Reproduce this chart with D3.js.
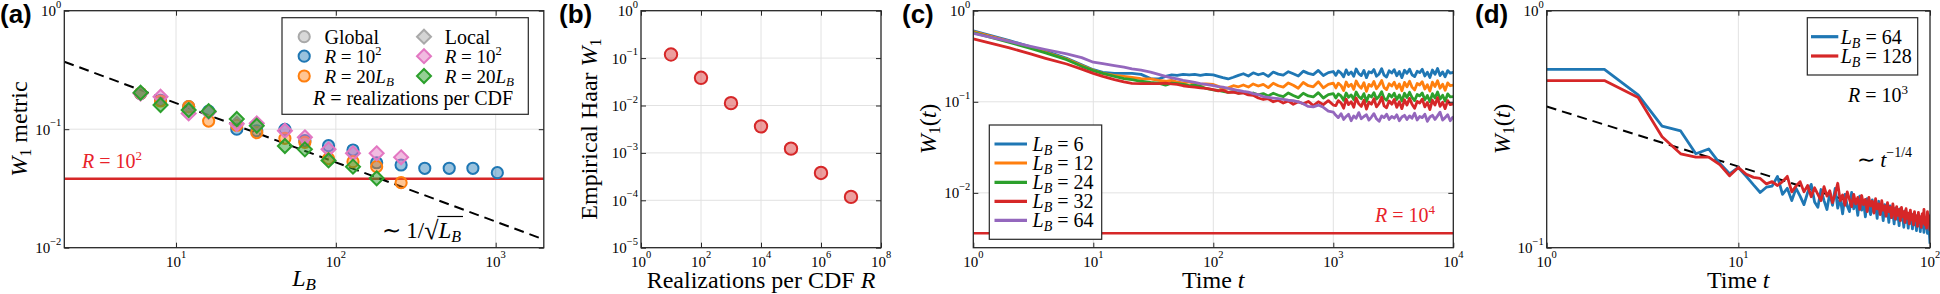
<!DOCTYPE html>
<html><head><meta charset="utf-8">
<script src="https://cdn.jsdelivr.net/npm/d3@7"></script>
<style>body{margin:0;background:#fff}svg{display:block}</style>
</head><body>
<script>
// ================= DATA =================
// Panel (a)
const LB = [6, 8, 12, 16, 24, 32, 48, 64, 90, 128, 180, 256, 360, 512, 720, 1024];
const globalR100 = [0.20, 0.175, 0.155, 0.142, 0.100, 0.097, 0.0998, 0.080, 0.0726, 0.0667, 0.0521, 0.0499, 0.0468, 0.0468, 0.0468, 0.043];
const globalR20L = [0.201, 0.173, 0.155, 0.117, 0.108, 0.0935, 0.0838, 0.0775, 0.0565, 0.0532, 0.0483, 0.0354];
const localR100 = [0.20, 0.188, 0.136, 0.14, 0.111, 0.112, 0.097, 0.0854, 0.0676, 0.0626, 0.0626, 0.0579];
const localR20L = [0.203, 0.16, 0.145, 0.142, 0.122, 0.107, 0.0722, 0.0676, 0.0545, 0.0483, 0.0385];
const fitA_L = [2, 2000];
const fitA_W = [0.371, 0.01174];
const thresholdA = 0.0382;

// Panel (b)
const realizationsR = [1e1, 1e2, 1e3, 1e4, 1e5, 1e6, 1e7];
const haarW1 = [0.119, 0.0384, 0.0112, 0.00363, 0.00123, 0.000378, 0.000118];

// Panel (c)
const timeC = [1,2,3,4,6,8,10,
 12,15,18,21,25,30,35,40,45,50,56,63,70,78,87,100,
 110,120,133,147,162,178,196,215,237,261,287,316,348,383,422,464,511,562,619,681,750,826,909,1000,
 1050,1100,1160,1220,1280,1340,1410,1480,1550,1630,1710,1800,1890,1980,2080,2180,2290,2410,2530,2650,2780,2920,3070,3220,3380,3550,3730,3920,4110,4320,4530,4760,5000,5250,5510,5790,6080,6380,6700,7040,7390,7760,8150,8550,8980,9430,10000];
const wC_L6 = [0.60,0.47,0.40,0.36,0.30,0.255,0.225,
 0.21,0.205,0.205,0.205,0.20,0.18,0.178,0.19,0.197,0.195,0.20,0.197,0.20,0.195,0.20,0.197,
 0.19,0.184,0.178,0.186,0.195,0.203,0.192,0.208,0.198,0.205,0.19,0.212,0.201,0.196,0.214,0.203,0.192,0.217,0.205,0.199,0.221,0.194,0.209,0.215,
 0.195,0.218,0.206,0.188,0.224,0.199,0.213,0.19,0.229,0.204,0.194,0.221,0.184,0.214,0.208,0.226,0.191,0.202,0.231,0.196,0.187,0.219,0.207,0.225,0.193,0.215,0.184,0.222,0.205,0.228,0.198,0.189,0.216,0.209,0.227,0.192,0.211,0.185,0.223,0.2,0.232,0.194,0.213,0.188,0.22,0.206,0.21];
const wC_L12 = [0.59,0.46,0.395,0.35,0.295,0.25,0.222,
 0.205,0.195,0.19,0.185,0.18,0.178,0.172,0.168,0.172,0.165,0.16,0.165,0.158,0.155,0.157,0.155,
 0.148,0.138,0.142,0.15,0.146,0.153,0.145,0.157,0.149,0.155,0.143,0.16,0.15,0.145,0.161,0.152,0.141,0.163,0.15,0.146,0.166,0.142,0.155,0.16,
 0.142,0.16,0.151,0.133,0.165,0.147,0.156,0.137,0.169,0.15,0.141,0.162,0.13,0.155,0.148,0.167,0.139,0.152,0.171,0.143,0.136,0.158,0.149,0.164,0.14,0.157,0.132,0.163,0.146,0.168,0.145,0.135,0.159,0.153,0.166,0.138,0.154,0.131,0.164,0.147,0.17,0.141,0.156,0.134,0.161,0.15,0.152];
const wC_L24 = [0.575,0.45,0.385,0.345,0.29,0.245,0.22,
 0.205,0.19,0.18,0.175,0.168,0.163,0.16,0.152,0.16,0.158,0.155,0.15,0.152,0.148,0.14,0.135,
 0.133,0.13,0.127,0.129,0.124,0.127,0.12,0.125,0.119,0.123,0.116,0.124,0.118,0.114,0.125,0.117,0.111,0.124,0.116,0.113,0.126,0.11,0.12,0.123,
 0.11,0.122,0.116,0.104,0.125,0.112,0.119,0.106,0.128,0.114,0.108,0.123,0.101,0.118,0.113,0.126,0.107,0.115,0.129,0.109,0.104,0.121,0.113,0.124,0.106,0.119,0.102,0.124,0.111,0.127,0.112,0.103,0.12,0.116,0.125,0.105,0.117,0.1,0.123,0.11,0.128,0.107,0.118,0.102,0.122,0.113,0.114];
const wC_L32 = [0.49,0.39,0.335,0.30,0.26,0.228,0.205,
 0.19,0.175,0.165,0.159,0.158,0.158,0.158,0.16,0.157,0.155,0.15,0.147,0.145,0.142,0.14,0.136,
 0.132,0.134,0.127,0.128,0.124,0.125,0.119,0.118,0.11,0.106,0.108,0.1,0.104,0.097,0.102,0.094,0.1,0.095,0.101,0.091,0.1,0.093,0.103,0.092,
 0.091,0.103,0.097,0.085,0.107,0.093,0.1,0.087,0.11,0.095,0.089,0.104,0.083,0.099,0.094,0.108,0.088,0.096,0.112,0.09,0.086,0.102,0.094,0.106,0.087,0.1,0.084,0.105,0.092,0.109,0.094,0.085,0.101,0.097,0.107,0.088,0.098,0.082,0.104,0.092,0.111,0.089,0.099,0.084,0.103,0.093,0.095];
const wC_L64 = [0.565,0.46,0.405,0.375,0.335,0.305,0.272,
 0.262,0.25,0.24,0.23,0.222,0.212,0.2,0.19,0.183,0.178,0.172,0.168,0.163,0.158,0.155,0.15,
 0.147,0.145,0.14,0.137,0.133,0.13,0.128,0.123,0.12,0.114,0.112,0.11,0.108,0.106,0.104,0.103,0.1,0.095,0.089,0.088,0.092,0.087,0.079,0.077,
 0.071,0.067,0.074,0.064,0.069,0.073,0.062,0.07,0.066,0.076,0.065,0.069,0.072,0.063,0.068,0.074,0.065,0.061,0.07,0.067,0.073,0.064,0.069,0.066,0.072,0.062,0.068,0.071,0.064,0.07,0.066,0.075,0.063,0.069,0.067,0.073,0.061,0.068,0.071,0.064,0.07,0.077,0.063,0.067,0.072,0.062,0.069];
const seriesC = [["6", wC_L6, "#1f77b4"], ["12", wC_L12, "#ff7f0e"], ["24", wC_L24, "#2ca02c"], ["32", wC_L32, "#d62728"], ["64", wC_L64, "#9467bd"]];
const thresholdC = 0.0036;

// Panel (d)
const timeD = d3.range(1, 101);
const wD_L64 = [0.566,0.566,0.441,0.326,0.311,0.249,0.261,0.227,0.205,0.218,0.2,0.184,0.171,0.18,0.182,0.2,0.168,0.178,0.158,0.178,
 0.165,0.152,0.171,0.185,0.156,0.148,0.176,0.158,0.145,0.17,0.151,0.178,0.147,0.162,0.139,0.168,0.15,0.142,0.171,0.146,
 0.158,0.137,0.165,0.144,0.156,0.135,0.161,0.147,0.138,0.159,0.141,0.152,0.133,0.157,0.139,0.148,0.13,0.152,0.136,0.145,
 0.128,0.15,0.134,0.141,0.126,0.147,0.132,0.139,0.124,0.146,0.131,0.137,0.122,0.143,0.128,0.136,0.121,0.14,0.127,0.134,
 0.12,0.139,0.125,0.133,0.118,0.137,0.124,0.131,0.117,0.135,0.122,0.13,0.116,0.134,0.121,0.129,0.115,0.138,0.119,0.104];
const wD_L128 = [0.507,0.507,0.43,0.294,0.249,0.241,0.241,0.224,0.201,0.218,0.204,0.198,0.196,0.186,0.19,0.183,0.19,0.2,0.172,0.182,
 0.19,0.172,0.183,0.164,0.179,0.168,0.158,0.181,0.165,0.174,0.155,0.169,0.187,0.158,0.167,0.151,0.172,0.16,0.149,0.168,
 0.153,0.163,0.145,0.166,0.152,0.16,0.142,0.163,0.15,0.157,0.14,0.161,0.146,0.153,0.138,0.158,0.144,0.15,0.136,0.155,
 0.142,0.148,0.134,0.153,0.14,0.132,0.149,0.137,0.145,0.13,0.148,0.135,0.142,0.128,0.146,0.133,0.14,0.126,0.144,0.131,
 0.138,0.125,0.142,0.13,0.136,0.123,0.141,0.128,0.135,0.122,0.139,0.127,0.145,0.125,0.133,0.121,0.142,0.126,0.136,0.118];
const fitD_t = [1, 100];
const fitD_W = [0.394, 0.123];

// Tick exponents
const tickExpA_x = [1, 2, 3], tickExpA_y = [0, -1, -2];
const tickExpB_x = [0, 2, 4, 6, 8], tickExpB_y = [0, -1, -2, -3, -4, -5];
const tickExpC_x = [0, 1, 2, 3, 4], tickExpC_y = [0, -1, -2];
const tickExpD_x = [0, 1, 2], tickExpD_y = [0, -1];

// ================= DRAWING =================
const SERIF = "'Liberation Serif','Times New Roman',serif";
const SANS = "'Liberation Sans',Arial,sans-serif";
const FRAME = "#262626", GRID = "#e2e2e2";
const C = {blue:"#1f77b4", orange:"#ff7f0e", green:"#2ca02c", red:"#d62728", pink:"#e377c2", gray:"#a9a9a9"};

const svg = d3.select("body").append("svg").attr("width", 1940).attr("height", 294);
const defs = svg.append("defs");

function rich(parent, x, y, parts, opts = {}) {
  const t = parent.append("text").attr("x", x).attr("y", y)
    .attr("font-family", SERIF).attr("font-size", opts.size || 20)
    .attr("fill", opts.color || "#000").attr("text-anchor", opts.anchor || "start")
    .attr("xml:space", "preserve").style("white-space", "pre");
  if (opts.rotate) t.attr("transform", `rotate(-90,${x},${y})`);
  let cur = 0;
  parts.forEach(p => {
    const s = p.shift || 0;
    const ts = t.append("tspan").text(p.t);
    if (s !== cur) ts.attr("dy", s - cur);
    cur = s;
    if (p.it) ts.attr("font-style", "italic");
    if (p.size) ts.attr("font-size", p.size);
  });
  return t;
}
const supTxt = e => e < 0 ? "\u2212" + (-e) : String(e);

let clipN = 0;
function panel(cfg) {
  const x = d3.scaleLog().domain(cfg.xd).range([cfg.x0, cfg.x1]);
  const y = d3.scaleLog().domain(cfg.yd).range([cfg.y1, cfg.y0]);
  const g = svg.append("g");
  const id = "clip" + (clipN++);
  defs.append("clipPath").attr("id", id).append("rect")
    .attr("x", cfg.x0).attr("y", cfg.y0).attr("width", cfg.x1 - cfg.x0).attr("height", cfg.y1 - cfg.y0);
  const grid = g.append("g");
  cfg.xg.forEach(v => grid.append("line").attr("x1", x(v)).attr("x2", x(v)).attr("y1", cfg.y0).attr("y2", cfg.y1).attr("stroke", GRID));
  cfg.yg.forEach(v => grid.append("line").attr("y1", y(v)).attr("y2", y(v)).attr("x1", cfg.x0).attr("x2", cfg.x1).attr("stroke", GRID));
  const data = g.append("g").attr("clip-path", `url(#${id})`);
  const over = g.append("g");
  return Object.assign({}, cfg, {x, y, g, data, over});
}
function frame(p) {
  const g = p.over;
  const xv = p.xt.map(e => Math.pow(10, e)), yv = p.yt.map(e => Math.pow(10, e));
  [[d3.axisBottom(p.x).tickValues(xv), `translate(0,${p.y1})`],
   [d3.axisTop(p.x).tickValues(xv), `translate(0,${p.y0})`],
   [d3.axisLeft(p.y).tickValues(yv), `translate(${p.x0},0)`],
   [d3.axisRight(p.y).tickValues(yv), `translate(${p.x1},0)`]].forEach(([a, tr]) => {
    const gg = g.append("g").attr("transform", tr).call(a.tickSizeInner(-5).tickSizeOuter(0).tickFormat(""));
    gg.select(".domain").remove();
    gg.selectAll(".tick line").attr("stroke", FRAME).attr("stroke-width", 1);
  });
  g.append("rect").attr("x", p.x0).attr("y", p.y0).attr("width", p.x1 - p.x0).attr("height", p.y1 - p.y0)
    .attr("fill", "none").attr("stroke", FRAME).attr("stroke-width", 1.3);
  p.xt.forEach(e => rich(g, p.x(Math.pow(10, e)), p.y1 + 19.5, [{t: "10"}, {t: supTxt(e), size: 10.5, shift: -9}], {size: 15, anchor: "middle"}));
  p.yt.forEach(e => rich(g, p.x0 - 3, p.y(Math.pow(10, e)) + 5.5, [{t: "10"}, {t: supTxt(e), size: 10.5, shift: -8.5}], {size: 15, anchor: "end"}));
}
function panelLabel(x, s) {
  svg.append("text").attr("x", x).attr("y", 23).attr("font-family", SANS).attr("font-weight", "bold")
    .attr("font-size", 26).text(s);
}
const diamond = s => `M0,${-s}L${s},0L0,${s}L${-s},0Z`;
function circ(g, cx, cy, col) {
  g.append("circle").attr("cx", cx).attr("cy", cy).attr("r", 5.6)
    .attr("fill", col).attr("fill-opacity", 0.45).attr("stroke", col).attr("stroke-width", 2);
}
function diam(g, cx, cy, col) {
  g.append("path").attr("d", diamond(7)).attr("transform", `translate(${cx},${cy})`)
    .attr("fill", col).attr("fill-opacity", 0.5).attr("stroke", col).attr("stroke-width", 2);
}

// ---------- Panel (a) ----------
const A = panel({x0: 64.3, x1: 543.8, y0: 10.7, y1: 247.7, xd: [2, 2000], yd: [0.01, 1],
  xg: [10, 100, 1000], yg: [0.1], xt: tickExpA_x, yt: tickExpA_y});
A.data.append("line").attr("x1", A.x0).attr("x2", A.x1).attr("y1", A.y(thresholdA)).attr("y2", A.y(thresholdA))
  .attr("stroke", C.red).attr("stroke-width", 2.6);
A.data.append("path").datum(d3.zip(fitA_L, fitA_W)).attr("d", d3.line().x(d => A.x(d[0])).y(d => A.y(d[1])))
  .attr("fill", "none").attr("stroke", "#000").attr("stroke-width", 2).attr("stroke-dasharray", "10,6");
globalR100.forEach((v, i) => circ(A.data, A.x(LB[i]), A.y(v), C.blue));
globalR20L.forEach((v, i) => circ(A.data, A.x(LB[i]), A.y(v), C.orange));
localR100.forEach((v, i) => diam(A.data, A.x(LB[i]), A.y(v), C.pink));
localR20L.forEach((v, i) => diam(A.data, A.x(LB[i]), A.y(v), C.green));
frame(A);
// legend (a)
{
  const g = A.over;
  g.append("rect").attr("x", 282).attr("y", 17.7).attr("width", 246.3).attr("height", 96.6)
    .attr("fill", "#fff").attr("stroke", FRAME).attr("stroke-width", 1.2);
  circ(g, 304.2, 36.7, C.gray); diam(g, 424, 36.7, C.gray);
  circ(g, 304.2, 56.2, C.blue); diam(g, 424, 56.2, C.pink);
  circ(g, 304.2, 76, C.orange); diam(g, 424, 76, C.green);
  rich(g, 324.5, 44, [{t: "Global"}], {size: 20});
  rich(g, 444.7, 44, [{t: "Local"}], {size: 20});
  const r100 = [{t: "R", it: 1}, {t: " = 10"}, {t: "2", size: 12.5, shift: -8}];
  const r20 = [{t: "R", it: 1}, {t: " = 20"}, {t: "L", it: 1}, {t: "B", it: 1, size: 13, shift: 3}];
  rich(g, 324.5, 62.5, r100, {size: 19}); rich(g, 444.7, 62.5, r100, {size: 19});
  rich(g, 324.5, 83, r20, {size: 19}); rich(g, 444.7, 83, r20, {size: 19});
  rich(g, 413, 105, [{t: "R", it: 1}, {t: " = realizations per CDF"}], {size: 20, anchor: "middle"});
  rich(g, 82, 168, [{t: "R", it: 1}, {t: " = 10"}, {t: "2", size: 13, shift: -8}], {size: 20, color: "#e8222a"});
  // ~ 1/sqrt(L_B)
  const bx = 381.5, by = 238;
  const t1 = rich(g, bx, by, [{t: "\u223C 1/"}], {size: 23});
  const w1 = t1.node().getComputedTextLength();
  const t2 = rich(g, bx + w1, by + 1, [{t: "\u221A"}], {size: 26});
  const w2 = t2.node().getComputedTextLength();
  const t3 = rich(g, bx + w1 + w2, by, [{t: "L", it: 1}, {t: "B", it: 1, size: 16, shift: 4}], {size: 23});
  const w3 = t3.node().getComputedTextLength();
  g.append("line").attr("x1", bx + w1 + w2 - 1).attr("x2", bx + w1 + w2 + w3 + 2).attr("y1", 216.5).attr("y2", 216.5)
    .attr("stroke", "#000").attr("stroke-width", 1.2);
}
rich(svg, 304, 285.5, [{t: "L", it: 1}, {t: "B", it: 1, size: 17, shift: 4}], {size: 24, anchor: "middle"});
rich(svg, 27, 129, [{t: "W", it: 1}, {t: "1", size: 16, shift: 4}, {t: " metric", shift: 0}], {size: 24, anchor: "middle", rotate: 1});
panelLabel(0, "(a)");

// ---------- Panel (b) ----------
const B = panel({x0: 641, x1: 881, y0: 10.7, y1: 247.7, xd: [1, 1e8], yd: [1e-5, 1],
  xg: [1e2, 1e4, 1e6], yg: [1e-1, 1e-2, 1e-3, 1e-4], xt: tickExpB_x, yt: tickExpB_y});
haarW1.forEach((v, i) => B.data.append("circle").attr("cx", B.x(realizationsR[i])).attr("cy", B.y(v)).attr("r", 6.2)
  .attr("fill", C.red).attr("fill-opacity", 0.45).attr("stroke", C.red).attr("stroke-width", 2));
frame(B);
rich(svg, 761, 288, [{t: "Realizations per CDF "}, {t: "R", it: 1}], {size: 24, anchor: "middle"});
rich(svg, 597, 129, [{t: "Empirical Haar "}, {t: "W", it: 1}, {t: "1", size: 16, shift: 4}], {size: 24, anchor: "middle", rotate: 1});
panelLabel(559, "(b)");

// ---------- Panel (c) ----------
const Cp = panel({x0: 973.3, x1: 1453.3, y0: 10.7, y1: 247.7, xd: [1, 1e4], yd: [0.0025, 1],
  xg: [10, 100, 1000], yg: [0.1, 0.01], xt: tickExpC_x, yt: tickExpC_y});
Cp.data.append("line").attr("x1", Cp.x0).attr("x2", Cp.x1).attr("y1", Cp.y(thresholdC)).attr("y2", Cp.y(thresholdC))
  .attr("stroke", C.red).attr("stroke-width", 2.6);
const lineC = d3.line().x(d => Cp.x(d[0])).y(d => Cp.y(d[1]));
seriesC.forEach(([name, vals, col]) => Cp.data.append("path").datum(d3.zip(timeC, vals)).attr("d", lineC)
  .attr("fill", "none").attr("stroke", col).attr("stroke-width", 2.8).attr("stroke-linejoin", "round"));
frame(Cp);
{
  const g = Cp.over;
  g.append("rect").attr("x", 989.3).attr("y", 125).attr("width", 112.4).attr("height", 114.3)
    .attr("fill", "#fff").attr("stroke", FRAME).attr("stroke-width", 1.2);
  const ys = [144, 163, 182.3, 201.3, 220.3];
  seriesC.forEach(([name, vals, col], i) => {
    g.append("line").attr("x1", 994.5).attr("x2", 1027).attr("y1", ys[i]).attr("y2", ys[i])
      .attr("stroke", col).attr("stroke-width", 3.2);
    rich(g, 1032.5, ys[i] + 7, [{t: "L", it: 1}, {t: "B", it: 1, size: 14, shift: 4}, {t: " = " + name, shift: 0}], {size: 20});
  });
  rich(g, 1375, 221.7, [{t: "R", it: 1}, {t: " = 10"}, {t: "4", size: 13, shift: -8}], {size: 20, color: "#e8222a"});
}
rich(svg, 1213.3, 288, [{t: "Time "}, {t: "t", it: 1}], {size: 24, anchor: "middle"});
rich(svg, 936, 129, [{t: "W", it: 1}, {t: "1", size: 16, shift: 4}, {t: "(", shift: 0}, {t: "t", it: 1}, {t: ")"}], {size: 24, anchor: "middle", rotate: 1});
panelLabel(902, "(c)");

// ---------- Panel (d) ----------
const D = panel({x0: 1546.7, x1: 1930, y0: 10.7, y1: 247.7, xd: [1, 100], yd: [0.1, 1],
  xg: [10], yg: [], xt: tickExpD_x, yt: tickExpD_y});
D.data.append("path").datum(d3.zip(fitD_t, fitD_W)).attr("d", d3.line().x(d => D.x(d[0])).y(d => D.y(d[1])))
  .attr("fill", "none").attr("stroke", "#000").attr("stroke-width", 2).attr("stroke-dasharray", "10,6");
const lineD = d3.line().x(d => D.x(d[0])).y(d => D.y(d[1]));
D.data.append("path").datum(d3.zip(timeD, wD_L64)).attr("d", lineD)
  .attr("fill", "none").attr("stroke", C.blue).attr("stroke-width", 2.8).attr("stroke-linejoin", "round");
D.data.append("path").datum(d3.zip(timeD, wD_L128)).attr("d", lineD)
  .attr("fill", "none").attr("stroke", C.red).attr("stroke-width", 2.8).attr("stroke-linejoin", "round");
frame(D);
{
  const g = D.over;
  g.append("rect").attr("x", 1807.3).attr("y", 17.7).attr("width", 110.4).attr("height", 57.3)
    .attr("fill", "#fff").attr("stroke", FRAME).attr("stroke-width", 1.2);
  [["64", C.blue, 36.7], ["128", C.red, 56]].forEach(([n, col, yy]) => {
    g.append("line").attr("x1", 1811).attr("x2", 1838.3).attr("y1", yy).attr("y2", yy).attr("stroke", col).attr("stroke-width", 3.2);
    rich(g, 1840.7, yy + 7, [{t: "L", it: 1}, {t: "B", it: 1, size: 14, shift: 4}, {t: " = " + n, shift: 0}], {size: 20});
  });
  rich(g, 1848, 101.7, [{t: "R", it: 1}, {t: " = 10"}, {t: "3", size: 13, shift: -8}], {size: 20});
  rich(g, 1856.7, 166.7, [{t: "\u223C "}, {t: "t", it: 1}, {t: "\u22121/4", size: 14, shift: -10}], {size: 22});
}
rich(svg, 1738.3, 288, [{t: "Time "}, {t: "t", it: 1}], {size: 24, anchor: "middle"});
rich(svg, 1510, 129, [{t: "W", it: 1}, {t: "1", size: 16, shift: 4}, {t: "(", shift: 0}, {t: "t", it: 1}, {t: ")"}], {size: 24, anchor: "middle", rotate: 1});
panelLabel(1475, "(d)");
</script>
</body></html>
